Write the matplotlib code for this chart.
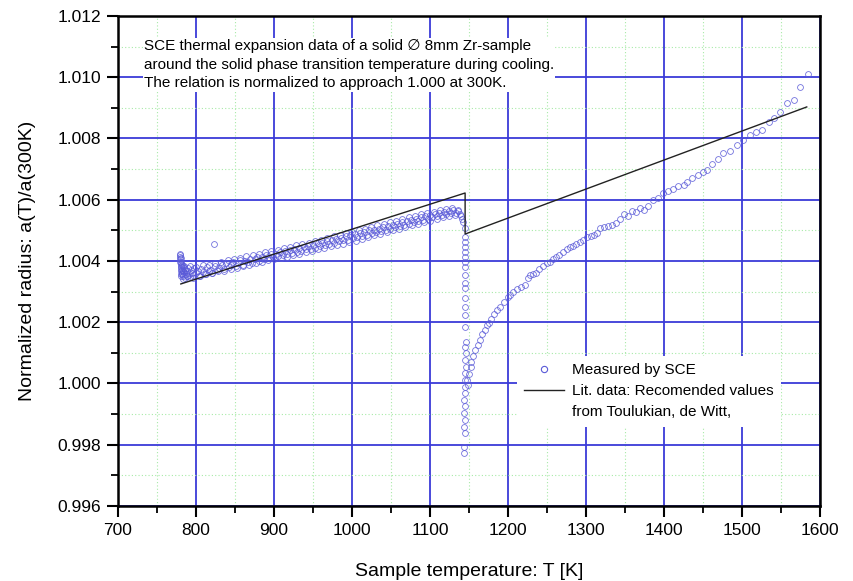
import matplotlib
matplotlib.use('Agg')
from matplotlib import pyplot as plt
from matplotlib.lines import Line2D
from matplotlib.ticker import MultipleLocator, FormatStrFormatter

plt.rcParams['font.family'] = ['Liberation Sans', 'DejaVu Sans']

# SCE measurement, cooling run (read off the original plot)
# lower branch 780..1143 K
band_T = [779.5, 779.7, 779.9, 780.0, 780.2, 780.3, 780.5, 780.7, 780.9, 781.2, 781.5, 782.0,
          782.5, 783.0, 783.6, 784.2, 785.0, 785.7, 786.5, 787.3, 788.0, 789.0, 790.0, 791.2,
          792.5, 793.8, 795.0, 796.5, 798.0, 800.0, 802.0, 804.0, 806.5, 809.0, 811.0, 813.5,
          816.0, 818.5, 821.0, 824.0, 827.0, 830.0, 833.0, 836.0, 839.0, 842.0, 845.0, 848.0,
          851.0, 854.0, 857.0, 860.0, 863.0, 866.0, 869.0, 872.0, 875.0, 878.0, 881.0, 884.0,
          887.0, 890.0, 893.0, 896.0, 899.0, 902.0, 905.0, 908.0, 911.0, 914.0, 917.0, 920.0,
          923.0, 926.0, 929.0, 932.0, 935.0, 938.0, 941.0, 944.0, 947.0, 950.0, 953.0, 956.0,
          959.0, 962.0, 965.0, 968.0, 971.0, 974.0, 977.0, 980.0, 983.0, 986.0, 989.0, 992.0,
          995.0, 998.0, 1001.0, 1004.0, 1007.0, 1010.0, 1013.0, 1016.0, 1019.0, 1022.0, 1025.0,
          1028.0, 1031.0, 1034.0, 1037.0, 1040.0, 1043.0, 1046.0, 1049.0, 1052.0, 1055.0, 1058.0,
          1061.0, 1064.0, 1067.0, 1070.0, 1073.0, 1076.0, 1079.0, 1082.0, 1085.0, 1088.0, 1091.0,
          1094.0, 1097.0, 1100.0, 1103.0, 1106.0, 1109.0, 1112.0, 1115.0, 1118.0, 1121.0, 1124.0,
          1127.0, 1130.0, 1133.0, 1136.0, 1138.0, 1140.0, 1141.5, 1142.5, 823.0]
band_a = [1.00420, 1.00414, 1.00406, 1.00398, 1.00390, 1.00382, 1.00374, 1.00366, 1.00358, 1.00352, 1.00362, 1.00372,
          1.00356, 1.00368, 1.00350, 1.00378, 1.00360, 1.00346, 1.00372, 1.00358, 1.00366, 1.00352, 1.00376, 1.00360,
          1.00348, 1.00370, 1.00362, 1.00354, 1.00376, 1.00360, 1.00368, 1.00352, 1.00374, 1.00364, 1.00358, 1.00380,
          1.00366, 1.00372, 1.00360, 1.00384, 1.00370, 1.00378, 1.00388, 1.00374, 1.00392, 1.00380, 1.00386, 1.00398,
          1.00384, 1.00394, 1.00402, 1.00388, 1.00400, 1.00396, 1.00408, 1.00394, 1.00406, 1.00412, 1.00400, 1.00414,
          1.00406, 1.00418, 1.00410, 1.00422, 1.00412, 1.00424, 1.00416, 1.00428, 1.00420, 1.00432, 1.00424, 1.00436,
          1.00426, 1.00438, 1.00430, 1.00442, 1.00434, 1.00446, 1.00438, 1.00450, 1.00440, 1.00452, 1.00444, 1.00458,
          1.00448, 1.00460, 1.00452, 1.00464, 1.00456, 1.00468, 1.00460, 1.00472, 1.00464, 1.00476, 1.00468, 1.00480,
          1.00470, 1.00484, 1.00476, 1.00488, 1.00478, 1.00492, 1.00482, 1.00494, 1.00486, 1.00500, 1.00490,
          1.00502, 1.00494, 1.00506, 1.00498, 1.00512, 1.00502, 1.00514, 1.00506, 1.00518, 1.00510, 1.00522,
          1.00514, 1.00526, 1.00518, 1.00530, 1.00522, 1.00534, 1.00526, 1.00538, 1.00530, 1.00542, 1.00534,
          1.00546, 1.00538, 1.00550, 1.00542, 1.00554, 1.00546, 1.00558, 1.00550, 1.00560, 1.00554, 1.00564,
          1.00556, 1.00566, 1.00558, 1.00562, 1.00554, 1.00548, 1.00538, 1.00526, 1.00455]

# second pass of the same branch (points lying in between the first ones)
band2_T = [780.1, 780.4, 780.8, 781.0, 781.8, 782.8, 783.4,
           784.5, 788.5, 792.5, 796.5, 800.5, 804.5, 808.5, 812.5, 816.5, 820.5, 824.5, 828.5,
           832.5, 836.5, 840.5, 844.5, 848.5, 852.5, 856.5, 860.5, 864.5, 868.5, 872.5, 876.5,
           880.5, 884.5, 888.5, 892.5, 896.5, 900.5, 904.5, 908.5, 912.5, 916.5, 920.5, 924.5,
           928.5, 932.5, 936.5, 940.5, 944.5, 948.5, 952.5, 956.5, 960.5, 964.5, 968.5, 972.5,
           976.5, 980.5, 984.5, 988.5, 992.5, 996.5, 1000.5, 1004.5, 1008.5, 1012.5, 1016.5, 1020.5,
           1024.5, 1028.5, 1032.5, 1036.5, 1040.5, 1044.5, 1048.5, 1052.5, 1056.5, 1060.5, 1064.5,
           1068.5, 1072.5, 1076.5, 1080.5, 1084.5, 1088.5, 1092.5, 1096.5, 1100.5, 1104.5, 1108.5,
           1112.5, 1116.5, 1120.5, 1124.5, 1128.5, 1132.5, 1136.5]
band2_a = [1.00424, 1.00410, 1.00396, 1.00380, 1.00388, 1.00342, 1.00384,
           1.00382, 1.00350, 1.00384, 1.00346, 1.00380, 1.00350, 1.00386, 1.00356, 1.00388, 1.00360, 1.00394, 1.00366,
           1.00398, 1.00368, 1.00402, 1.00374, 1.00408, 1.00378, 1.00410, 1.00384, 1.00416, 1.00388, 1.00420, 1.00394,
           1.00424, 1.00398, 1.00428, 1.00402, 1.00434, 1.00406, 1.00436, 1.00410, 1.00442, 1.00414, 1.00446, 1.00420,
           1.00452, 1.00424, 1.00456, 1.00428, 1.00460, 1.00432, 1.00466, 1.00438, 1.00470, 1.00442, 1.00474, 1.00448,
           1.00480, 1.00452, 1.00484, 1.00456, 1.00490, 1.00462, 1.00494, 1.00466, 1.00500, 1.00472, 1.00504, 1.00478,
           1.00510, 1.00484, 1.00516, 1.00488, 1.00520, 1.00494, 1.00526, 1.00500, 1.00532, 1.00504, 1.00536,
           1.00510, 1.00542, 1.00516, 1.00546, 1.00520, 1.00552, 1.00526, 1.00556, 1.00530, 1.00560, 1.00536,
           1.00566, 1.00542, 1.00570, 1.00546, 1.00572, 1.00550, 1.00568]

# undercooling dip at the transition, ~1143..1146 K
dip_T = [1144.8, 1145.2, 1144.6, 1145.0, 1144.7, 1145.3, 1144.9, 1145.1, 1144.6, 1145.4, 1144.8,
         1145.0, 1144.5, 1145.2, 1144.7, 1145.6, 1144.9, 1145.8, 1144.6, 1146.2, 1144.8, 1145.0,
         1144.4, 1144.9, 1144.2, 1144.7, 1144.0, 1144.5, 1143.8, 1144.3, 1143.6, 1144.1]
dip_a = [1.00509, 1.00479, 1.00463, 1.00447, 1.00430, 1.00414, 1.00398, 1.00381, 1.00354, 1.00327, 1.00311,
         1.00278, 1.00251, 1.00224, 1.00185, 1.00137, 1.00120, 1.00099, 1.00077, 1.00055, 1.00033, 1.00011,
         0.99990, 0.99968, 0.99946, 0.99925, 0.99903, 0.99881, 0.99859, 0.99837, 0.99794, 0.99772]

# upper branch, 1147..1584 K
high_T = [1147, 1149, 1150, 1152, 1153, 1155, 1158, 1161, 1164, 1167, 1170, 1173, 1175, 1178, 1182,
          1186, 1190, 1195, 1200, 1203, 1207, 1212, 1217, 1222, 1225, 1228, 1232, 1236, 1240, 1245,
          1250, 1254, 1258, 1262, 1266, 1271, 1275, 1279, 1283, 1287, 1292, 1296, 1301, 1306, 1310,
          1314, 1318, 1323, 1328, 1333, 1338, 1344, 1349, 1354, 1359, 1364, 1369, 1374, 1380, 1386,
          1392, 1399, 1405, 1412, 1418, 1425, 1429, 1436, 1443, 1450, 1455, 1462, 1469, 1476, 1484,
          1493, 1501, 1510, 1518, 1525, 1534, 1541, 1549, 1558, 1567, 1574, 1584]
high_a = [1.00011, 0.99995, 1.00030, 1.00055, 1.00071, 1.00090, 1.00108, 1.00125, 1.00142, 1.00160, 1.00175,
          1.00190, 1.00198, 1.00212, 1.00228, 1.00240, 1.00251, 1.00265, 1.00283, 1.00289, 1.00298, 1.00308,
          1.00316, 1.00322, 1.00345, 1.00354, 1.00358, 1.00362, 1.00375, 1.00385, 1.00392, 1.00398, 1.00405,
          1.00412, 1.00420, 1.00430, 1.00440, 1.00446, 1.00448, 1.00455, 1.00462, 1.00470, 1.00479, 1.00482,
          1.00486, 1.00490, 1.00508, 1.00512, 1.00514, 1.00518, 1.00525, 1.00536, 1.00555, 1.00548, 1.00562,
          1.00560, 1.00572, 1.00566, 1.00580, 1.00598, 1.00605, 1.00621, 1.00630, 1.00635, 1.00645, 1.00648,
          1.00659, 1.00672, 1.00680, 1.00692, 1.00697, 1.00718, 1.00732, 1.00752, 1.00760, 1.00779, 1.00795,
          1.00811, 1.00822, 1.00828, 1.00855, 1.00868, 1.00888, 1.00917, 1.00926, 1.00969, 1.01011]

# literature values (Touloukian, de Witt)
lit_T = [780.5, 1145.0, 1145.0, 1583.0]
lit_a = [1.00325, 1.00622, 1.00488, 1.00903]

note = ('SCE thermal expansion data of a solid \u2205 8mm Zr-sample\n'
        'around the solid phase transition temperature during cooling.\n'
        'The relation is normalized to approach 1.000 at 300K.')

fig = plt.figure(figsize=(8.54, 5.81), dpi=100)
ax = fig.add_axes([0.1382, 0.1291, 0.8220, 0.8434])

dot_col = '#5a5ad8'
for T, a in [(band_T, band_a), (band2_T, band2_a), (dip_T, dip_a), (high_T, high_a)]:
    ax.plot(T, a, linestyle='none', marker='o', markersize=4.2, markerfacecolor='none',
            markeredgecolor=dot_col, markeredgewidth=0.6, alpha=0.85, zorder=3)
ax.plot(lit_T, lit_a, color='#222222', lw=1.0, zorder=4)

ax.set_xlim(700, 1600)
ax.set_ylim(0.996, 1.012)
ax.xaxis.set_major_locator(MultipleLocator(100))
ax.xaxis.set_minor_locator(MultipleLocator(50))
ax.yaxis.set_major_locator(MultipleLocator(0.002))
ax.yaxis.set_minor_locator(MultipleLocator(0.001))
ax.yaxis.set_major_formatter(FormatStrFormatter('%.3f'))

ax.grid(which='major', color='#3a3ad8', lw=1.3, zorder=1)
ax.grid(which='minor', color='#a8eaa8', lw=0.8, linestyle=(0, (1, 2)), zorder=1)
ax.set_axisbelow(True)

ax.tick_params(which='major', direction='out', length=8, width=1.5, labelsize=12.5, pad=4)
ax.tick_params(which='minor', direction='out', length=5, width=1.3)
for s in ax.spines.values():
    s.set_linewidth(1.8)
    s.set_color('black')

ax.set_xlabel('Sample temperature: T [K]', fontsize=14, labelpad=18)
ax.set_ylabel('Normalized radius: a(T)/a(300K)', fontsize=14, labelpad=16)

ax.text(0.037, 0.952, note, transform=ax.transAxes, fontsize=11, va='top', ha='left',
        family=['Liberation Sans', 'DejaVu Sans'], linespacing=1.4,
        bbox=dict(facecolor='white', edgecolor='none', pad=1), zorder=5)

# legend: the lit. line sits next to the first line of its two-line label
handles = [Line2D([], [], linestyle='none', marker='o', markersize=4.5, markerfacecolor='none',
                  markeredgecolor=dot_col, markeredgewidth=0.8),
           Line2D([], [], color='#222222', lw=1.0),
           Line2D([], [], color='none')]
labels = ['Measured by SCE', 'Lit. data: Recomended values', 'from Toulukian, de Witt,']
leg = ax.legend(handles, labels,
                loc='upper left', bbox_to_anchor=(0.557, 0.322), frameon=True, fancybox=False,
                facecolor='white', edgecolor='none', framealpha=1, handlelength=2.6,
                handletextpad=0.5, borderpad=0.5, labelspacing=0.45,
                prop={'family': ['Liberation Sans', 'DejaVu Sans'], 'size': 11})
leg.set_zorder(6)

fig.savefig('out.png', dpi=100)
